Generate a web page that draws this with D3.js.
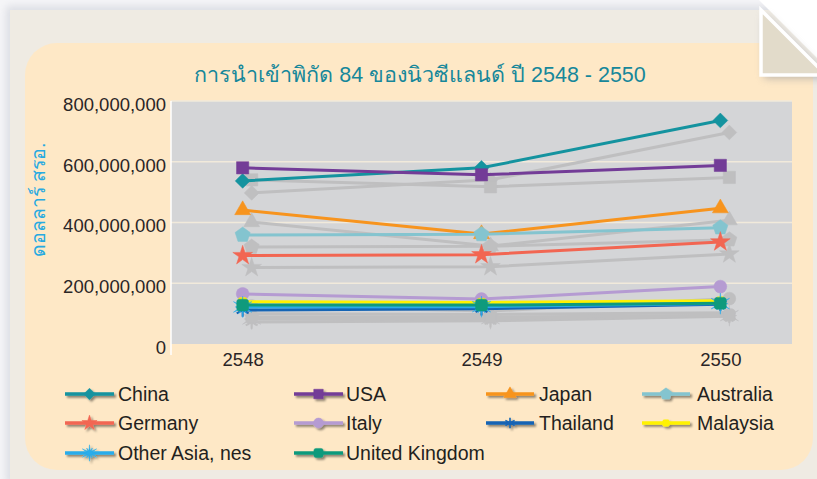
<!DOCTYPE html>
<html>
  <head>
    <title>NZ imports 84</title>
    <style>
      body {
        margin: 0px;
        overflow: hidden;
        background: #ffffff;
      }
      text { font-family: "Liberation Sans", Arial, sans-serif; }
    </style>
    <script src="https://d3js.org/d3.v7.min.js"></script>
  </head>
  <body>

    <svg width="817" height="479"></svg>

    <script>
      // data, values in USD
      const years = ['2548', '2549', '2550'];
      const seriesNames = ['China', 'USA', 'Japan', 'Australia', 'Germany', 'Italy',
                           'Thailand', 'Malaysia', 'Other Asia, nes', 'United Kingdom'];
      const china     = [537e6, 580e6, 736e6];
      const usa       = [580e6, 557e6, 588e6];
      const japan     = [441e6, 362e6, 447e6];
      const australia = [359e6, 361e6, 383e6];
      const germany   = [291e6, 294e6, 336e6];
      const italy     = [165e6, 148e6, 189e6];
      const thailand  = [112e6, 116e6, 131e6];
      const malaysia  = [139e6, 137e6, 142e6];
      const otherAsia = [122e6, 123e6, 133e6];
      const uk        = [128e6, 128e6, 134e6];
      const yTicks = [0, 200e6, 400e6, 600e6, 800e6];

      const titleText = 'การนำเข้าพิกัด 84 ของนิวซีแลนด์ ปี 2548 - 2550';
      const yLabel = 'ดอลลาร์ สรอ.';

      const seriesValues = [china, usa, japan, australia, germany, italy,
                            thailand, malaysia, otherAsia, uk];
      const colors = ['#14939f', '#733c97', '#f7941e', '#84c4cf', '#f26652', '#b59bd2',
                      '#1564b4', '#fff200', '#29acea', '#0f9a7c'];

      // custom marker shapes
      const poly = (ctx, pts) => {
        pts.forEach((p, i) => i ? ctx.lineTo(p[0], p[1]) : ctx.moveTo(p[0], p[1]));
        ctx.closePath();
      };
      const diamond = {
        draw(ctx, size) {
          const r = Math.sqrt(size / 2);
          poly(ctx, [[0, -r], [r, 0], [0, r], [-r, 0]]);
        }
      };
      const pentagon = {
        draw(ctx, size) {
          const r = Math.sqrt(size / 2.38);
          poly(ctx, d3.range(5).map(i => {
            const a = -Math.PI / 2 + i * 2 * Math.PI / 5;
            return [r * Math.cos(a), r * Math.sin(a)];
          }));
        }
      };
      const burst = {
        draw(ctx, size) {
          const r = Math.sqrt(size) * 0.75, ri = r * 0.3;
          poly(ctx, d3.range(24).map(i => {
            const a = -Math.PI / 2 + i * Math.PI / 12;
            const rr = i % 2 ? ri : (i % 4 ? r * 0.7 : r);
            return [rr * Math.cos(a), rr * Math.sin(a)];
          }));
        }
      };
      const asterisk = {
        draw(ctx, size) {
          const r = Math.sqrt(size) * 0.6;
          for (let i = 0; i < 3; i++) {
            const a = Math.PI / 2 + i * Math.PI / 3;
            ctx.moveTo(r * Math.cos(a), r * Math.sin(a));
            ctx.lineTo(-r * Math.cos(a), -r * Math.sin(a));
          }
        }
      };
      const roundSquare = {
        draw(ctx, size) {
          const h = Math.sqrt(size) / 2, c = h * 0.45;
          ctx.moveTo(-h + c, -h);
          ctx.lineTo(h - c, -h); ctx.quadraticCurveTo(h, -h, h, -h + c);
          ctx.lineTo(h, h - c); ctx.quadraticCurveTo(h, h, h - c, h);
          ctx.lineTo(-h + c, h); ctx.quadraticCurveTo(-h, h, -h, h - c);
          ctx.lineTo(-h, -h + c); ctx.quadraticCurveTo(-h, -h, -h + c, -h);
          ctx.closePath();
        }
      };
      const shapes = [
        { type: diamond, size: 110 },
        { type: d3.symbolSquare, size: 150 },
        { type: d3.symbolTriangle, size: 110 },
        { type: pentagon, size: 150 },
        { type: d3.symbolStar, size: 120 },
        { type: d3.symbolCircle, size: 130 },
        { type: asterisk, size: 130, line: true },
        { type: roundSquare, size: 70 },
        { type: burst, size: 200 },
        { type: roundSquare, size: 140 }
      ];

      const data = seriesNames.map((name, i) => ({
        name,
        color: colors[i],
        shape: shapes[i],
        values: years.map((yr, j) => ({ year: yr, value: seriesValues[i][j] }))
      }));

      const svg = d3.select('svg');
      const width = +svg.attr('width');
      const height = +svg.attr('height');

      const defs = svg.append('defs');
      const f = defs.append('filter').attr('id', 'drop')
        .attr('x', '-30%').attr('y', '-60%').attr('width', '160%').attr('height', '220%');
      f.append('feDropShadow').attr('dx', 2).attr('dy', 2)
        .attr('stdDeviation', 1.3).attr('flood-color', '#000').attr('flood-opacity', 0.45);
      const f2 = defs.append('filter').attr('id', 'blur')
        .attr('x', '-20%').attr('y', '-20%').attr('width', '140%').attr('height', '140%');
      f2.append('feGaussianBlur').attr('stdDeviation', 4);

      // page background
      svg.append('rect').attr('x', 0).attr('y', 0).attr('width', width).attr('height', height)
        .attr('fill', '#f6f6f8');
      svg.append('rect').attr('x', 6).attr('y', 6).attr('width', width).attr('height', height)
        .attr('fill', '#c9ccd6').attr('filter', 'url(#blur)').attr('opacity', 0.6);
      svg.append('rect').attr('x', 10).attr('y', 10).attr('width', width).attr('height', height)
        .attr('fill', '#efebe3');

      // peach panel
      svg.append('rect').attr('x', 25).attr('y', 43).attr('width', 788).attr('height', 427)
        .attr('rx', 32).attr('fill', '#fee8c6');

      // folded corner
      svg.append('path').attr('d', 'M759,0 L817,0 L817,58 Z').attr('fill', '#ffffff');
      svg.append('path').attr('d', 'M764,14 L764,78 L830,78 Z')
        .attr('fill', '#8a8d99').attr('filter', 'url(#blur)').attr('opacity', 0.6);
      svg.append('path').attr('d', 'M761,10 L761,75 L826,75 Z')
        .attr('fill', '#e2dbca').attr('stroke', '#ffffff').attr('stroke-width', 3.5)
        .attr('stroke-linejoin', 'miter');

      // scales
      const plot = { left: 171, right: 792, top: 101, bottom: 344 };
      const x = d3.scalePoint().domain(years).range([plot.left, plot.right]).padding(0.3);
      const y = d3.scaleLinear().domain([0, 800e6]).range([plot.bottom, plot.top]);

      svg.append('rect').attr('x', plot.left).attr('y', plot.top)
        .attr('width', plot.right - plot.left).attr('height', plot.bottom - plot.top)
        .attr('fill', '#d4d5d7');

      // gridlines
      svg.append('g').selectAll('line').data(yTicks.slice(1)).join('line')
        .attr('x1', plot.left).attr('x2', plot.right)
        .attr('y1', d => y(d)).attr('y2', d => y(d))
        .attr('stroke', '#f1eadb').attr('stroke-width', 1.6);

      svg.append('line').attr('x1', plot.left).attr('x2', plot.left)
        .attr('y1', plot.top).attr('y2', plot.bottom + 11)
        .attr('stroke', '#ffffff').attr('stroke-width', 1.5);

      // axes
      const yAxis = svg.append('g')
        .attr('transform', `translate(${plot.left},0)`)
        .call(d3.axisLeft(y).tickValues(yTicks).tickFormat(d3.format(',')).tickSize(0).tickPadding(5));
      yAxis.select('.domain').remove();
      yAxis.selectAll('text').attr('font-size', 18.5).attr('fill', '#2a2526').attr('dy', '0.5em')
        .style('font-family', '"Liberation Sans", Arial, sans-serif');

      const xAxis = svg.append('g')
        .attr('transform', `translate(0,${plot.bottom})`)
        .call(d3.axisBottom(x).tickSize(0).tickPadding(9));
      xAxis.select('.domain').remove();
      xAxis.selectAll('text').attr('font-size', 18.5).attr('fill', '#2a2526')
        .style('font-family', '"Liberation Sans", Arial, sans-serif');

      const line = d3.line().x(d => x(d.year)).y(d => y(d.value));
      const sym = (s, k = 1) => d3.symbol().type(s.type).size(s.size * k)();

      // grey 3d shadows
      const sh = svg.append('g').attr('transform', 'translate(9,12)');
      data.forEach(s => {
        sh.append('path').attr('d', line(s.values)).attr('fill', 'none')
          .attr('stroke', '#bfbfc0').attr('stroke-width', 3);
        sh.selectAll(null).data(s.values).join('path')
          .attr('transform', d => `translate(${x(d.year)},${y(d.value)})`)
          .attr('d', sym(s.shape))
          .attr('fill', s.shape.line ? 'none' : '#bfbfc0')
          .attr('stroke', '#bfbfc0').attr('stroke-width', s.shape.line ? 2 : 0.5);
      });

      // coloured series
      data.forEach(s => {
        svg.append('path').attr('d', line(s.values)).attr('fill', 'none')
          .attr('stroke', s.color).attr('stroke-width', 3);
        svg.selectAll(null).data(s.values).join('path')
          .attr('transform', d => `translate(${x(d.year)},${y(d.value)})`)
          .attr('d', sym(s.shape))
          .attr('fill', s.shape.line ? 'none' : s.color)
          .attr('stroke', s.color).attr('stroke-width', s.shape.line ? 2 : 0.5);
      });

      // title and axis label
      svg.append('text').attr('x', 420).attr('y', 82).attr('text-anchor', 'middle')
        .attr('font-size', 21.5).attr('fill', '#16879a').text(titleText);

      svg.append('text').attr('transform', 'translate(45,200) rotate(-90)')
        .attr('text-anchor', 'middle').attr('font-size', 19.5).attr('fill', '#27aae1')
        .text(yLabel);

      // legend
      const colX = [[65, 114, 118], [294, 343, 346], [486, 534, 539], [642, 690, 697]];
      const rowY = [394, 423, 453];
      const legend = svg.append('g');
      data.forEach((s, i) => {
        const c = colX[i % 4], ry = rowY[Math.floor(i / 4)];
        const key = legend.append('g').attr('filter', 'url(#drop)');
        key.append('line').attr('x1', c[0]).attr('x2', c[1]).attr('y1', ry).attr('y2', ry)
          .attr('stroke', s.color).attr('stroke-width', 3.5);
        key.append('path').attr('transform', `translate(${(c[0] + c[1]) / 2},${ry})`)
          .attr('d', sym(s.shape, 0.6))
          .attr('fill', s.shape.line ? 'none' : s.color)
          .attr('stroke', s.color).attr('stroke-width', s.shape.line ? 1.6 : 0.5);
        legend.append('text').attr('x', c[2]).attr('y', ry).attr('dy', '0.36em')
          .attr('font-size', 19.5).attr('fill', '#231f20').text(s.name);
      });
    </script>
  </body>
</html>
